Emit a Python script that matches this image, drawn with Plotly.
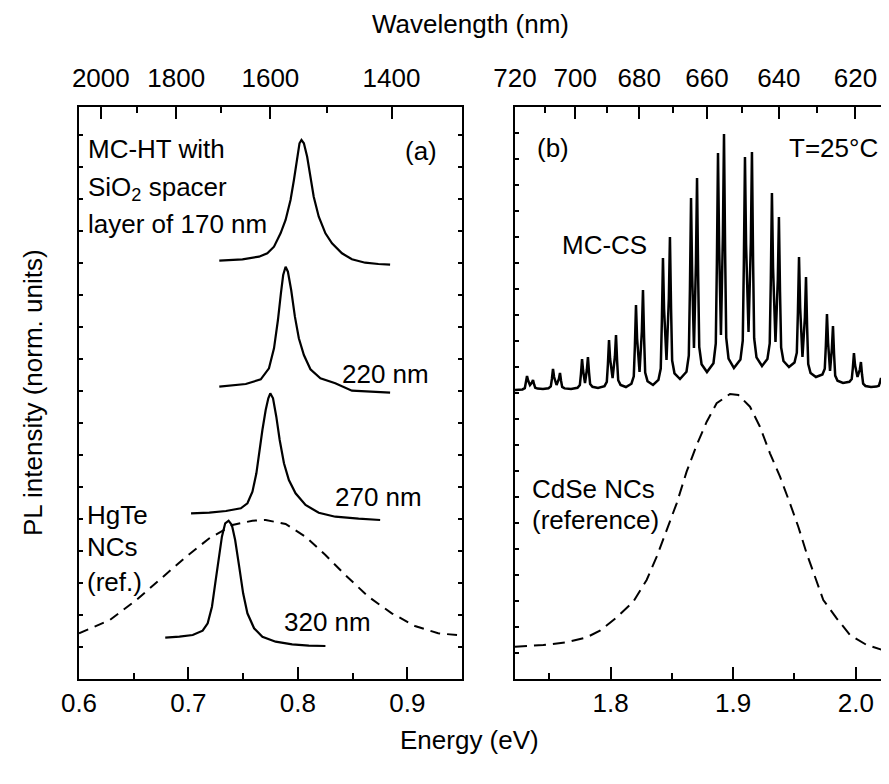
import plotly.graph_objects as go

# ---------------- data ----------------
# Panel (a): HgTe microcavities, energy in eV, intensity in normalized (offset) units
mc170_e = [0.7282, 0.7494, 0.7645, 0.7721, 0.7782, 0.7842, 0.7888, 0.7933, 0.7964, 0.7994,
           0.8015, 0.8033, 0.8055, 0.8085, 0.8115, 0.8145, 0.8191, 0.8252, 0.8312, 0.8403,
           0.8494, 0.8615, 0.8736, 0.8843]
mc170_i = [418.3, 419.7, 422.3, 425.7, 432.3, 445.7, 459.0, 479.0, 499.0, 522.3,
           535.7, 539.0, 535.7, 522.3, 502.3, 482.3, 462.3, 445.7, 435.7, 425.7,
           419.7, 416.3, 415.0, 414.3]

mc220_e = [0.7282, 0.7524, 0.7661, 0.7736, 0.7782, 0.7818, 0.7845, 0.7866, 0.7888, 0.7909,
           0.7939, 0.7973, 0.8009, 0.8055, 0.8115, 0.8206, 0.8342, 0.8494, 0.8843]
mc220_i = [292.3, 295.0, 299.7, 310.7, 330.7, 359.0, 385.7, 404.0, 412.3, 407.3,
           389.0, 362.3, 340.7, 324.0, 309.7, 300.7, 295.7, 288.3, 286.3]

mc270_e = [0.7024, 0.7191, 0.7343, 0.7479, 0.7539, 0.7585, 0.7621, 0.7645, 0.7676, 0.7706,
           0.7730, 0.7748, 0.7773, 0.7803, 0.7834, 0.7873, 0.7918, 0.7979, 0.8070, 0.8191,
           0.8342, 0.8555, 0.8752]
mc270_i = [165.7, 166.3, 168.0, 170.7, 175.7, 187.3, 205.7, 225.7, 249.0, 269.0,
           280.7, 285.7, 280.7, 262.3, 239.0, 215.7, 199.0, 185.7, 174.0, 166.3,
           162.3, 160.3, 159.0]

mc320_e = [0.6788, 0.6918, 0.7039, 0.7130, 0.7176, 0.7215, 0.7245, 0.7276, 0.7306, 0.7336,
           0.7367, 0.7397, 0.7427, 0.7464, 0.7500, 0.7539, 0.7600, 0.7676, 0.7797, 0.7948,
           0.8100, 0.8252]
mc320_i = [41.3, 42.3, 44.0, 48.3, 55.7, 72.3, 95.7, 122.3, 142.3, 155.7,
           158.3, 154.0, 139.0, 112.3, 85.7, 65.7, 50.7, 42.3, 37.3, 34.7,
           33.3, 33.0]

hgte_ref_e = [0.6000, 0.6282, 0.6524, 0.6736, 0.6979, 0.7191, 0.7403, 0.7585, 0.7706, 0.7888,
              0.8070, 0.8252, 0.8433, 0.8645, 0.8858, 0.9070, 0.9282, 0.9500]
hgte_ref_i = [45.7, 59.0, 79.0, 99.0, 122.3, 140.7, 154.0, 158.3, 159.0, 155.0,
              142.3, 124.0, 104.0, 82.3, 65.7, 53.0, 45.7, 43.5]

# Panel (b): CdSe microcavity (MC-CS), read pair by pair, and CdSe NC reference
mccs_e = [1.7220,
          1.7281, 1.7300, 1.7309, 1.7318, 1.7327, 1.7342, 1.7358, 1.7367, 1.7376, 1.7385, 1.7404, 1.7448,
          1.7493, 1.7512, 1.7521, 1.7530, 1.7539, 1.7559, 1.7578, 1.7587, 1.7596, 1.7605, 1.7624, 1.7677,
          1.7730, 1.7749, 1.7758, 1.7767, 1.7776, 1.7791, 1.7806, 1.7815, 1.7824, 1.7833, 1.7852, 1.7897,
          1.7950, 1.7969, 1.7978, 1.7987, 1.7996, 1.8016, 1.8035, 1.8044, 1.8053, 1.8062, 1.8081, 1.8125,
          1.8170, 1.8189, 1.8198, 1.8207, 1.8216, 1.8236, 1.8255, 1.8264, 1.8273, 1.8282, 1.8301, 1.8346,
          1.8390, 1.8409, 1.8418, 1.8427, 1.8436, 1.8456, 1.8475, 1.8484, 1.8493, 1.8502, 1.8521, 1.8566,
          1.8619, 1.8638, 1.8647, 1.8656, 1.8665, 1.8680, 1.8696, 1.8705, 1.8714, 1.8723, 1.8742, 1.8786,
          1.8839, 1.8858, 1.8867, 1.8876, 1.8885, 1.8900, 1.8916, 1.8925, 1.8934, 1.8943, 1.8962, 1.9006,
          1.9059, 1.9078, 1.9087, 1.9096, 1.9105, 1.9125, 1.9144, 1.9153, 1.9162, 1.9171, 1.9190, 1.9235,
          1.9279, 1.9298, 1.9307, 1.9316, 1.9325, 1.9345, 1.9364, 1.9373, 1.9382, 1.9391, 1.9410, 1.9455,
          1.9500, 1.9519, 1.9528, 1.9537, 1.9546, 1.9565, 1.9585, 1.9594, 1.9603, 1.9612, 1.9631, 1.9675,
          1.9728, 1.9747, 1.9756, 1.9765, 1.9774, 1.9790, 1.9805, 1.9814, 1.9823, 1.9832, 1.9851, 1.9896,
          1.9948, 1.9967, 1.9976, 1.9985, 1.9994, 2.0014, 2.0033, 2.0042, 2.0051, 2.0060, 2.0079, 2.0124,
          2.0169, 2.0188, 2.0197, 2.0206, 2.0215, 2.0231, 2.0245, 2.0254, 2.0271]
mccs_i = [289.0,
          289.6, 290.8, 296.0, 303.0, 298.5, 294.0, 296.5, 299.0, 294.5, 291.2, 290.4, 290.0,
          290.8, 292.6, 300.0, 310.0, 302.0, 294.0, 300.0, 306.0, 298.0, 292.1, 290.6, 290.0,
          291.2, 293.9, 305.0, 320.0, 308.0, 296.0, 309.0, 322.0, 306.5, 295.0, 292.2, 291.0,
          292.9, 297.2, 315.0, 339.0, 320.0, 301.0, 322.5, 344.0, 318.0, 298.8, 294.1, 292.0,
          295.3, 302.7, 333.0, 374.0, 340.5, 307.0, 348.0, 389.0, 341.5, 306.4, 297.8, 294.0,
          299.1, 310.5, 357.5, 421.0, 370.0, 319.0, 380.5, 442.0, 371.0, 318.5, 305.7, 300.0,
          307.2, 323.5, 390.5, 481.0, 406.0, 331.0, 416.0, 501.0, 404.0, 332.2, 314.8, 307.0,
          315.8, 335.5, 416.5, 526.0, 435.0, 344.0, 444.5, 545.0, 428.0, 341.4, 320.4, 311.0,
          319.4, 338.4, 416.5, 522.0, 434.5, 347.0, 437.0, 527.0, 420.0, 340.8, 321.6, 313.0,
          319.9, 335.5, 399.5, 486.0, 411.5, 337.0, 399.5, 462.0, 387.0, 331.5, 318.0, 312.0,
          316.4, 326.3, 367.0, 422.0, 372.0, 322.0, 362.0, 402.0, 352.0, 315.0, 306.0, 302.0,
          304.5, 310.2, 333.5, 365.0, 336.5, 308.0, 330.5, 353.0, 324.5, 303.4, 298.3, 296.0,
          297.2, 299.9, 311.0, 326.0, 314.0, 302.0, 309.5, 317.0, 304.5, 295.3, 293.0, 292.0,
          292.4, 293.2, 296.5, 301.0, 297.5, 294.0, 296.0, 298.0, 295.0]

cdse_ref_e = [1.7220, 1.7451, 1.7642, 1.7805, 1.7913, 1.8050, 1.8185, 1.8294, 1.8376, 1.8457,
              1.8539, 1.8620, 1.8702, 1.8784, 1.8865, 1.8974, 1.9042, 1.9137, 1.9218, 1.9300,
              1.9382, 1.9463, 1.9531, 1.9599, 1.9667, 1.9735, 1.9844, 1.9953, 2.0089, 2.0271]
cdse_ref_i = [32.3, 34.0, 36.7, 41.7, 48.3, 61.7, 77.3, 99.0, 122.3, 149.0,
              175.7, 207.3, 234.0, 257.3, 275.7, 285.0, 284.0, 272.3, 252.3, 225.7,
              202.3, 175.7, 152.3, 125.7, 102.3, 79.0, 60.7, 44.0, 34.0, 27.0]

# tick labels
energy_ticks_a = [0.6, 0.7, 0.8, 0.9]
energy_minor_a = [0.65, 0.75, 0.85]
energy_ticks_b = [1.8, 1.9, 2.0]
energy_minor_b = [1.75, 1.85, 1.95]
wl_major_a = [2000, 1800, 1600, 1400]
wl_minor_a = [1900, 1700, 1500]
wl_major_b = [720, 700, 680, 660, 640, 620]
wl_minor_b = [710, 690, 670, 650, 630]
HC = 1239.84  # eV*nm

# ---------------- figure ----------------
# the page body adds an 8 px margin, so the figure is 8 px smaller and
# all layout positions below are given in window pixels minus that offset
OFF = 8
W, H = 889 - OFF, 784 - OFF
FONT = "Liberation Sans, Arial, Helvetica, sans-serif"
FS = 26


def px(x):
    return (x - OFF) / W


def py(y):
    return 1 - (y - OFF) / H


xa_dom = [px(79), px(462)]
xb_dom = [px(515), 1.0]
y_dom = [py(679), py(107)]
xa_range = [0.6, 0.95]
xb_range = [1.722, 2.0271]
y_range = [0, 572]

fig = go.Figure()


def line(x, y, xa, ya, dash=None, width=2.2):
    fig.add_trace(go.Scatter(x=x, y=y, xaxis=xa, yaxis=ya, mode="lines",
                             line=dict(color="black", width=width, dash=dash),
                             showlegend=False, hoverinfo="skip"))


line(hgte_ref_e, hgte_ref_i, "x", "y", dash="10px,7px", width=2)
line(mc170_e, mc170_i, "x", "y")
line(mc220_e, mc220_i, "x", "y")
line(mc270_e, mc270_i, "x", "y")
line(mc320_e, mc320_i, "x", "y")
line(cdse_ref_e, cdse_ref_i, "x2", "y2", dash="12px,7px", width=2)
line(mccs_e, mccs_i, "x2", "y2", width=2.5)
# carriers for the top (wavelength) axes
fig.add_trace(go.Scatter(x=[xa_range[0]], y=[0], xaxis="x3", yaxis="y", mode="markers",
                         marker=dict(opacity=0), showlegend=False, hoverinfo="skip"))
fig.add_trace(go.Scatter(x=[xb_range[0]], y=[0], xaxis="x4", yaxis="y2", mode="markers",
                         marker=dict(opacity=0), showlegend=False, hoverinfo="skip"))

tickfont = dict(family=FONT, size=FS, color="black")
common_x = dict(showline=True, linewidth=2, linecolor="black", ticks="inside", ticklen=12,
                tickwidth=2, tickcolor="black", showgrid=False, zeroline=False,
                tickfont=tickfont, fixedrange=True)
minor_common = dict(tickmode="array", ticks="inside", ticklen=6, tickwidth=2,
                    tickcolor="black")

fig.update_layout(
    width=W, height=H, margin=dict(l=0, r=0, t=0, b=0, autoexpand=False),
    plot_bgcolor="white", paper_bgcolor="white",
    xaxis=dict(domain=xa_dom, range=xa_range, anchor="y", tickmode="array",
               tickvals=energy_ticks_a, ticktext=[f"{v:.1f}" for v in energy_ticks_a],
               minor=dict(tickvals=energy_minor_a, **minor_common),
               ticklabelstandoff=0, **common_x),
    xaxis2=dict(domain=xb_dom, range=xb_range, anchor="y2", tickmode="array",
                tickvals=energy_ticks_b, ticktext=[f"{v:.1f}" for v in energy_ticks_b],
                minor=dict(tickvals=energy_minor_b, **minor_common),
                ticklabelstandoff=0, **common_x),
    xaxis3=dict(overlaying="x", side="top", anchor="y", range=xa_range, tickmode="array",
                tickvals=[HC / w for w in wl_major_a], ticktext=[str(w) for w in wl_major_a],
                minor=dict(tickvals=[HC / w for w in wl_minor_a], **minor_common),
                ticklabelstandoff=8, **common_x),
    xaxis4=dict(overlaying="x2", side="top", anchor="y2", range=xb_range, tickmode="array",
                tickvals=[HC / w for w in wl_major_b], ticktext=[str(w) for w in wl_major_b],
                minor=dict(tickvals=[HC / w for w in wl_minor_b], **minor_common),
                ticklabelstandoff=8, **common_x),
    yaxis=dict(domain=y_dom, range=y_range, anchor="x", showline=True, linewidth=2,
               linecolor="black", mirror="ticks", ticks="inside", ticklen=4, tickwidth=1.5,
               tickcolor="black", tickmode="linear", tick0=0, dtick=32,
               showticklabels=False, showgrid=False, zeroline=False, fixedrange=True),
    yaxis2=dict(domain=y_dom, range=y_range, anchor="x2", showline=True, linewidth=2,
                linecolor="black", ticks="inside", ticklen=4, tickwidth=1.5,
                tickcolor="black", tickmode="linear", tick0=0, dtick=26,
                showticklabels=False, showgrid=False, zeroline=False, fixedrange=True),
)

labels = [
    ("MC-HT with", 86, 149), ("SiO<sub>2</sub> spacer", 86, 188), ("layer of 170 nm", 86, 224),
    ("(a)", 403, 151), ("220 nm", 340, 374), ("270 nm", 333, 497),
    ("HgTe", 85, 515), ("NCs", 85, 547), ("(ref.)", 85, 582), ("320 nm", 282, 622),
    ("(b)", 535, 148), ("T=25°C", 787, 148), ("MC-CS", 560, 245),
    ("CdSe NCs", 530, 489), ("(reference)", 530, 520),
]
for text, x, y in labels:
    fig.add_annotation(text=text, x=px(x), y=py(y), xref="paper", yref="paper",
                       xanchor="left", yanchor="middle", showarrow=False,
                       font=dict(family=FONT, size=FS, color="black"))

fig.add_annotation(text="Wavelength (nm)", x=px(470), y=py(24), xref="paper", yref="paper",
                   xanchor="center", yanchor="middle", showarrow=False,
                   font=dict(family=FONT, size=FS, color="black"))
fig.add_annotation(text="Energy (eV)", x=px(469), y=py(740), xref="paper", yref="paper",
                   xanchor="center", yanchor="middle", showarrow=False,
                   font=dict(family=FONT, size=FS, color="black"))
fig.add_annotation(text="PL intensity (norm. units)", x=px(33), y=py(393), xref="paper",
                   yref="paper", xanchor="center", yanchor="middle", textangle=-90,
                   showarrow=False, font=dict(family=FONT, size=FS, color="black"))

fig.write_html("out.html")
